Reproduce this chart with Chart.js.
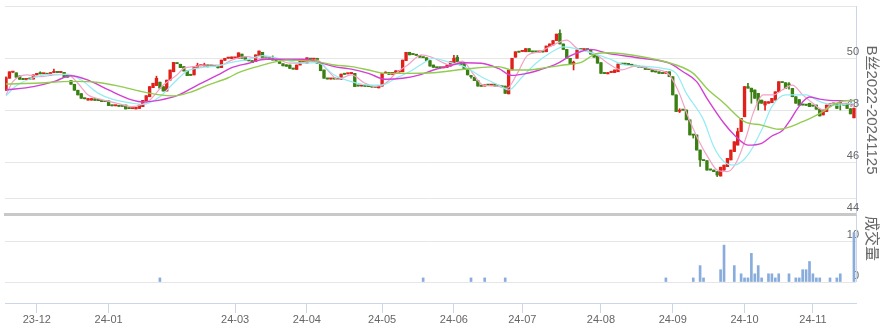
<!DOCTYPE html>
<html lang="zh">
<head>
  <meta charset="UTF-8">
  <title>B丝2022-20241125</title>
  <script src="https://cdn.jsdelivr.net/npm/chart.js"></script>
  <style>
    body { margin: 0; background: #fff; }
    #wrap { position: relative; width: 888px; height: 335px; }
    #priceBox { position: absolute; left: 0; top: 0; width: 888px; height: 216px; }
    #volBox { position: absolute; left: 0; top: 216px; width: 888px; height: 119px; }
  </style>
</head>
<body>
  <div id="wrap">
    <div id="priceBox"><canvas id="priceChart"></canvas></div>
    <div id="volBox"><canvas id="volChart"></canvas></div>
  </div>

  <script>
    // daily candles, index 0 = first bar on the left
    const opens = [
      48.77,49.22,49.45,49.43,49.31,49.19,49.17,49.20,49.19,49.35,
      49.40,49.39,49.38,49.34,49.44,49.45,49.44,49.45,49.33,49.13,
      48.99,48.76,48.63,48.44,48.38,48.38,48.43,48.37,48.33,48.33,
      48.35,48.17,48.16,48.15,48.15,48.19,48.06,48.05,48.04,48.06,
      48.13,48.35,48.51,48.86,48.94,49.07,48.90,48.73,49.15,49.47,
      49.80,49.76,49.67,49.50,49.34,49.35,49.63,49.70,49.69,49.74,
      49.70,49.68,49.69,49.63,49.91,49.99,49.98,50.00,49.99,50.15,
      50.05,49.90,49.90,49.86,50.09,50.22,50.01,49.99,49.98,49.92,
      49.86,49.78,49.74,49.73,49.59,49.56,49.73,49.86,49.80,49.96,
      49.95,49.99,49.82,49.54,49.20,49.19,49.20,49.19,49.18,49.38,
      49.39,49.40,49.41,48.93,48.92,48.92,48.91,48.89,48.88,48.85,
      48.92,49.41,49.45,49.37,49.44,49.46,49.47,49.90,50.22,50.14,
      50.11,50.10,50.02,50.01,49.90,49.73,49.63,49.63,49.62,49.64,
      49.69,49.82,50.03,49.86,49.80,49.56,49.29,49.26,49.13,48.92,
      48.92,48.96,48.95,49.00,48.92,48.90,48.92,48.62,49.54,50.03,
      50.23,50.25,50.24,50.36,50.24,50.24,50.23,50.24,50.24,50.44,
      50.50,50.67,50.95,50.54,50.33,49.99,49.77,49.99,50.33,50.32,
      50.33,50.33,50.18,50.08,49.82,49.41,49.39,49.44,49.44,49.47,
      49.77,49.77,49.76,49.76,49.69,49.66,49.64,49.67,49.56,49.56,
      49.47,49.47,49.41,49.41,49.47,49.28,48.58,47.95,48.00,48.00,
      47.62,47.04,47.04,46.46,46.06,46.05,45.70,45.69,45.63,45.46,
      45.69,45.82,46.08,46.40,46.65,47.17,47.74,48.90,48.84,48.77,
      48.64,48.38,48.19,48.26,48.28,48.38,48.70,49.06,49.05,48.97,
      48.83,48.51,48.40,48.20,48.19,48.26,48.16,48.19,48.03,47.81,
      47.94,48.15,48.24,48.26,48.27,48.20,48.26,48.05,47.70
    ];
    const closes = [
      49.24,49.47,49.48,49.26,49.18,49.17,49.18,49.19,49.35,49.41,
      49.39,49.40,49.37,49.44,49.45,49.44,49.45,49.26,49.26,48.99,
      48.76,48.58,48.45,48.43,48.44,48.44,48.37,48.36,48.32,48.32,
      48.17,48.16,48.17,48.14,48.14,48.04,48.05,48.06,48.10,48.19,
      48.37,48.55,48.90,49.03,49.22,48.84,48.73,49.15,49.54,49.83,
      49.78,49.63,49.50,49.32,49.33,49.67,49.72,49.71,49.74,49.66,
      49.69,49.67,49.62,49.92,49.99,50.00,50.04,50.01,50.20,49.99,
      49.92,49.89,49.82,50.12,50.27,49.99,50.00,49.98,49.92,49.91,
      49.79,49.70,49.68,49.60,49.57,49.73,49.92,49.87,50.01,49.95,
      49.96,49.80,49.51,49.22,49.19,49.20,49.19,49.18,49.38,49.37,
      49.40,49.41,48.90,48.92,48.93,48.91,48.90,48.88,48.87,48.93,
      49.41,49.42,49.37,49.45,49.51,49.51,49.92,50.22,50.12,50.13,
      50.10,50.03,50.01,49.90,49.69,49.64,49.62,49.62,49.63,49.73,
      49.86,49.99,49.86,49.73,49.56,49.35,49.28,49.13,48.92,48.91,
      48.97,48.95,48.96,48.92,48.91,48.89,48.64,49.54,49.99,50.24,
      50.22,50.26,50.36,50.24,50.23,50.23,50.24,50.23,50.46,50.54,
      50.67,50.92,50.54,50.33,49.99,49.77,49.84,50.31,50.32,50.33,
      50.32,50.15,50.03,49.80,49.41,49.40,49.44,49.49,49.54,49.77,
      49.76,49.76,49.75,49.70,49.68,49.65,49.63,49.56,49.55,49.47,
      49.46,49.41,49.40,49.47,49.28,48.58,47.94,47.99,47.99,47.62,
      47.04,47.03,46.46,46.08,46.05,45.69,45.69,45.63,45.50,45.80,
      45.88,46.14,46.46,46.78,47.17,47.68,48.90,48.84,48.70,48.45,
      48.26,48.26,48.32,48.32,48.45,48.70,49.09,49.05,48.83,48.96,
      48.51,48.26,48.18,48.19,48.18,48.13,48.15,48.03,47.77,48.00,
      48.19,48.24,48.23,48.06,48.26,48.19,48.06,47.85,48.07
    ];

    // visible shadows only (null = no shadow on that side)
    const wickIdx  = [0, 10, 14, 44, 56, 58, 78, 86, 111, 131, 132, 136, 162, 166, 197, 201, 203, 208, 214, 217, 218, 220, 222, 229, 244];
    const wickHigh = [49.28, 49.47, 49.57, 49.30, 49.80, 49.80, 50.08, 49.95, 49.47, 50.10, 50.10, 49.33, 51.08, 49.88, 48.05, null, null, null, 47.30, 49.03, null, null, null, 49.05, 48.35];
    const wickLow  = [48.74, null, null, null, null, null, null, null, null, null, null, 49.22, null, 49.54, 47.90, 46.92, 45.83, 45.44, null, null, 48.26, 48.00, 47.99, 48.80, 48.00];

    // moving averages: [bar index, value]
    const ma5Pts = [[0,48.58],[2,49.09],[6,49.35],[10,49.28],[14,49.35],[18,49.37],[21,49.03],[24,48.58],[27.5,48.42],[32.5,48.26],[37,48.13],[40,48.22],[42,48.38],[46,48.96],[50,49.35],[52,49.6],[55,49.67],[59,49.73],[63,49.73],[66,49.92],[70.5,50.05],[74,49.99],[78,50.01],[83,49.8],[87,49.82],[91,49.92],[94,49.54],[97,49.18],[101,49.35],[105,49.03],[108,48.9],[111,49.03],[114,49.41],[117.5,49.73],[121.5,50.12],[124.5,50.03],[130,49.73],[133.5,49.88],[136.5,49.41],[139.5,48.96],[143.5,48.92],[146.5,48.83],[149.5,49.4],[152.5,50.1],[156,50.24],[160,50.5],[164,50.69],[167,50.37],[172,50.18],[176,49.8],[180,49.54],[184,49.69],[189,49.57],[193.5,49.41],[196.5,48.77],[199.5,47.74],[202.5,46.85],[205.5,46.14],[208,45.69],[211,45.63],[213.5,45.96],[216.5,46.97],[218.5,47.87],[221.5,48.58],[224.5,48.58],[227,48.77],[230,48.96],[233,48.58],[236,48.26],[239,48.0],[242,48.26],[246,48.26],[248,48.13]];
    const ma10Pts = [[0,48.55],[3,48.93],[8,49.24],[13,49.37],[18,49.37],[22,49.15],[27,48.64],[31,48.42],[37,48.26],[40,48.22],[45,48.51],[49,49.03],[53,49.5],[57,49.63],[62,49.7],[66,49.83],[71,49.95],[75,50.09],[79,50.01],[83,49.88],[87,49.8],[91,49.82],[96,49.35],[101,49.09],[106,48.96],[110,48.96],[114,49.22],[118,49.47],[122,49.8],[125,49.99],[129,49.86],[134,49.67],[139,49.28],[144,48.96],[147,48.77],[151,49.28],[155,49.8],[159,50.18],[163,50.43],[168,50.31],[176,49.99],[181,49.73],[186,49.69],[192,49.6],[196,49.41],[199,48.64],[204,47.62],[207,46.59],[210,46.01],[213,45.88],[217,46.27],[221,47.23],[224,48.13],[228,48.58],[234,48.58],[238,48.32],[243,48.19],[248,48.26]];
    const ma20Pts = [[0,48.77],[8,48.9],[14,49.09],[19,49.32],[24,49.15],[30,48.77],[37,48.38],[40,48.31],[45,48.38],[50,48.55],[56,48.96],[62,49.35],[66,49.63],[71,49.8],[76,49.95],[82,49.95],[87,49.95],[91,49.86],[96,49.67],[101,49.57],[106,49.41],[111,49.18],[116,49.22],[121,49.35],[125,49.54],[129,49.67],[134,49.82],[139,49.8],[144,49.6],[148,49.33],[152,49.4],[156,49.54],[161,49.77],[165,50.08],[168,50.24],[171,50.33],[176,50.18],[186,49.99],[194,49.8],[198,49.47],[202,49.09],[205,48.45],[210,47.49],[213,47.04],[217,46.65],[221,46.72],[224,47.0],[227,47.2],[229,47.54],[232,48.15],[235,48.5],[238,48.42],[243,48.36],[248,48.36]];
    const ma60Pts = [[0,49.0],[10,49.04],[19,49.1],[27,49.06],[33,48.92],[39,48.73],[45,48.58],[49,48.54],[54,48.69],[59,48.96],[65,49.24],[68,49.44],[74,49.69],[79,49.86],[82,49.92],[91,49.86],[96,49.73],[101,49.67],[106,49.54],[111,49.41],[117,49.41],[125,49.43],[134,49.57],[144,49.67],[148,49.54],[153,49.54],[158,49.63],[163,49.73],[168,49.82],[173,50.18],[176,50.2],[186,50.05],[196,49.73],[201,49.41],[205,48.83],[210,48.26],[216,47.55],[221,47.42],[226,47.26],[233,47.55],[238,47.87],[244,48.32],[248,48.38]];

    // volume, only the non-empty days
    const volIdx = [45,122,136,140,146,193,201,203,204,209,210,213,215,216,217,218,219,220,221,223,224,225,226,229,231,232,233,234,235,236,237,238,241,243,244,248];
    const volVal = [1,1,1,1,1,1,1,4,1,3,9,4,2,1,1,7,2,4,1,2,2,1,2,2,1,1,3,3,5,2,1,1,1,1,2,12];

    const monthIdx = [9, 30, 67, 88, 110, 131, 151, 174, 195, 216, 236];
    const monthLabels = ['23-12','24-01','24-03','24-04','24-05','24-06','24-07','24-08','24-09','24-10','24-11'];

    const priceTicks = [44, 44.6, 46, 48, 50, 52];
    const priceTickLabels = ['44', '', '46', '48', '50', ''];
    const volTicks = [0, 10];

    const UP = '#e0201b', DOWN = '#3a7f12';
    const X_MIN = -0.3, X_MAX = 248.6;

    Chart.defaults.font.family = "'Liberation Sans', 'Noto Sans CJK SC', sans-serif";
    Chart.defaults.font.size = 11;
    Chart.defaults.color = '#666';

    const highs = opens.map((o, i) => Math.max(o, closes[i]));
    const lows = opens.map((o, i) => Math.min(o, closes[i]));
    wickIdx.forEach((idx, k) => {
      if (wickHigh[k] !== null) highs[idx] = wickHigh[k];
      if (wickLow[k] !== null) lows[idx] = wickLow[k];
    });
    const candleColors = opens.map((o, i) => closes[i] >= o ? UP : DOWN);

    function maLine(pts, color, width) {
      return {
        type: 'line',
        data: pts.map(p => ({ x: p[0], y: p[1] })),
        borderColor: color,
        borderWidth: width,
        pointRadius: 0,
        cubicInterpolationMode: 'monotone',
        order: 0
      };
    }

    // right axis: fixed width, no extra room for the end labels
    function fitRightAxis(s) {
      s.width = 32;
      s.paddingTop = 0;
      s.paddingBottom = 0;
    }

    new Chart(document.getElementById('priceChart'), {
      type: 'bar',
      data: {
        datasets: [
          maLine(ma60Pts, '#92cc50', 1.4),
          maLine(ma20Pts, '#d33fd3', 1.4),
          maLine(ma10Pts, '#92ecf4', 1.2),
          maLine(ma5Pts, '#f3a2c6', 1.2),
          {
            data: opens.map((o, i) => ({ x: i, y: [lows[i], highs[i]] })),
            backgroundColor: candleColors,
            barThickness: 1,
            grouped: false,
            order: 2
          },
          {
            data: opens.map((o, i) => ({ x: i, y: [o, closes[i]] })),
            backgroundColor: candleColors,
            barThickness: 2.7,
            minBarLength: 1.2,
            grouped: false,
            order: 1
          }
        ]
      },
      options: {
        animation: false,
        responsive: true,
        maintainAspectRatio: false,
        layout: { padding: { left: 5, top: 6, right: 0, bottom: 0 } },
        plugins: { legend: { display: false }, tooltip: { enabled: false } },
        scales: {
          x: {
            type: 'linear', min: X_MIN, max: X_MAX, offset: false,
            ticks: { display: false },
            grid: { display: false },
            border: { color: '#c8c8c8', width: 3 },
            afterFit: s => { s.height = 2; }
          },
          y: {
            position: 'right', min: 44, max: 52,
            afterBuildTicks: s => { s.ticks = priceTicks.map(v => ({ value: v })); },
            ticks: { mirror: true, labelOffset: -6, padding: 3, callback: (v, i) => priceTickLabels[i] },
            grid: { color: '#e6e6e6', drawTicks: false },
            border: { color: '#ccd6eb' },
            title: { display: true, text: 'B丝2022-20241125', font: { size: 15 }, padding: { top: 8, bottom: 0 } },
            afterFit: fitRightAxis
          }
        }
      }
    });

    const volAxisLine = {
      id: 'volAxisLine',
      afterDraw(chart) {
        const { ctx, chartArea, scales } = chart;
        ctx.save();
        ctx.strokeStyle = '#ccd6eb';
        ctx.lineWidth = 1;
        ctx.beginPath();
        ctx.moveTo(chartArea.right + 0.5, chartArea.top);
        ctx.lineTo(chartArea.right + 0.5, scales.y.getPixelForValue(0));
        ctx.stroke();
        ctx.restore();
      }
    };

    new Chart(document.getElementById('volChart'), {
      type: 'bar',
      data: {
        datasets: [{
          data: volIdx.map((x, i) => ({ x: x, y: volVal[i] })),
          backgroundColor: '#88acdb',
          barThickness: 2
        }]
      },
      options: {
        animation: false,
        responsive: true,
        maintainAspectRatio: false,
        layout: { padding: { left: 5, top: 0, right: 0, bottom: 0 } },
        plugins: { legend: { display: false }, tooltip: { enabled: false } },
        scales: {
          x: {
            type: 'linear', min: X_MIN, max: X_MAX, offset: false,
            afterBuildTicks: s => { s.ticks = monthIdx.map(v => ({ value: v })); },
            ticks: { autoSkip: false, maxRotation: 0, padding: 0, callback: (v, i) => monthLabels[i] },
            grid: { offset: false, drawOnChartArea: false, tickLength: 10, color: '#ccd6eb' },
            border: { color: '#ccd6eb' },
            afterFit: s => { s.height = 32; s.paddingLeft = 0; s.paddingRight = 0; }
          },
          y: {
            position: 'right', min: -5.12, max: 16.1,
            afterBuildTicks: s => { s.ticks = volTicks.map(v => ({ value: v })); },
            ticks: { mirror: true, labelOffset: -6, padding: 3 },
            grid: { color: '#e6e6e6', drawTicks: false },
            border: { display: false },
            title: { display: true, text: '成交量', align: 'end', font: { size: 15 }, padding: { top: 8, bottom: 0 } },
            afterFit: fitRightAxis
          }
        }
      },
      plugins: [volAxisLine]
    });
  </script>
</body>
</html>
